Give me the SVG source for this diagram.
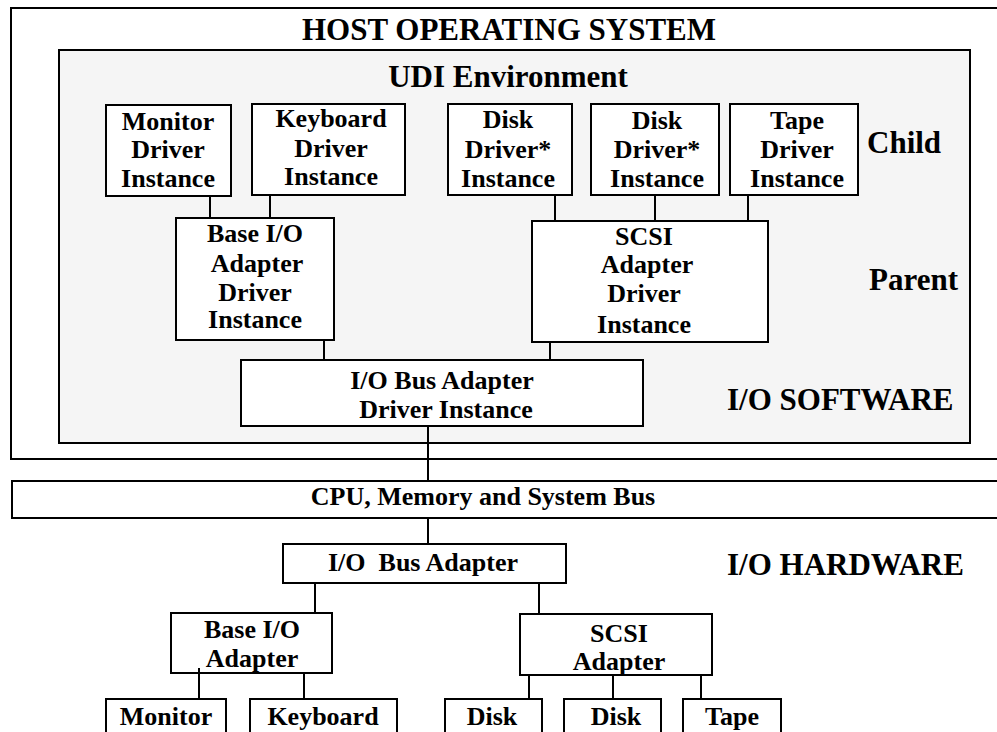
<svg xmlns="http://www.w3.org/2000/svg" width="997" height="732" viewBox="0 0 997 732">
<style>
rect{stroke:#000;stroke-width:2;fill:#fff}
rect.env{fill:#f5f5f5}
text{font-family:"Liberation Serif","Times New Roman",serif;font-weight:bold;fill:#000;text-anchor:middle}
.n{font-size:26px}
.big{font-size:31px}
.lbl{font-size:31px;text-anchor:start}
#connectors line{stroke:#000;stroke-width:2}
</style>
<rect id="host-box" x="11" y="8" width="1000" height="451"/>
<text class="big" x="509" y="40">HOST OPERATING SYSTEM</text>
<g id="udi-env">
<rect class="env" x="59" y="50" width="911" height="393"/>
<text class="big" x="508" y="87">UDI Environment</text>
</g>
<text class="lbl" x="867" y="153">Child</text>
<text class="lbl" x="869" y="290">Parent</text>
<text class="lbl" x="727" y="410">I/O SOFTWARE</text>
<text class="lbl" x="727" y="575">I/O HARDWARE</text>
<g id="connectors">
<line x1="210" y1="196" x2="210" y2="218"/>
<line x1="270" y1="195" x2="270" y2="218"/>
<line x1="555" y1="195" x2="555" y2="221"/>
<line x1="655" y1="195" x2="655" y2="221"/>
<line x1="748" y1="195" x2="748" y2="221"/>
<line x1="324" y1="340" x2="324" y2="360"/>
<line x1="550" y1="342" x2="550" y2="360"/>
<line x1="428" y1="426" x2="428" y2="481"/>
<line x1="428" y1="518" x2="428" y2="544"/>
<line x1="315" y1="583" x2="315" y2="613"/>
<line x1="539" y1="583" x2="539" y2="614"/>
<line x1="304" y1="673" x2="304" y2="699"/>
<line x1="529" y1="675" x2="529" y2="699"/>
<line x1="613" y1="675" x2="613" y2="699"/>
<line x1="701" y1="675" x2="701" y2="699"/>
</g>
<g id="monitor-drv">
<rect x="106" y="105" width="125" height="91"/>
<text class="n" x="168" y="130">Monitor</text>
<text class="n" x="168" y="158">Driver</text>
<text class="n" x="168" y="187">Instance</text>
</g>
<g id="keyboard-drv">
<rect x="252" y="104" width="153" height="91"/>
<text class="n" x="331" y="127">Keyboard</text>
<text class="n" x="331" y="157">Driver</text>
<text class="n" x="331" y="185">Instance</text>
</g>
<g id="disk1-drv">
<rect x="448" y="104" width="124" height="91"/>
<text class="n" x="508" y="128">Disk</text>
<text class="n" x="508" y="158">Driver*</text>
<text class="n" x="508" y="187">Instance</text>
</g>
<g id="disk2-drv">
<rect x="591" y="104" width="128" height="91"/>
<text class="n" x="657" y="129">Disk</text>
<text class="n" x="657" y="158">Driver*</text>
<text class="n" x="657" y="187">Instance</text>
</g>
<g id="tape-drv">
<rect x="730" y="104" width="128" height="91"/>
<text class="n" x="797" y="129">Tape</text>
<text class="n" x="797" y="158">Driver</text>
<text class="n" x="797" y="187">Instance</text>
</g>
<g id="base-io-drv">
<rect x="176" y="218" width="158" height="122"/>
<text class="n" x="255" y="242">Base I/O</text>
<text class="n" x="257" y="272">Adapter</text>
<text class="n" x="255" y="301">Driver</text>
<text class="n" x="255" y="328">Instance</text>
</g>
<g id="scsi-drv">
<rect x="532" y="221" width="236" height="121"/>
<text class="n" x="644" y="245">SCSI</text>
<text class="n" x="647" y="273">Adapter</text>
<text class="n" x="644" y="302">Driver</text>
<text class="n" x="644" y="333">Instance</text>
</g>
<g id="io-bus-drv">
<rect x="241" y="360" width="402" height="66"/>
<text class="n" x="442" y="389">I/O Bus Adapter</text>
<text class="n" x="446" y="418">Driver Instance</text>
</g>
<g id="cpu-bus">
<rect x="12" y="481" width="1000" height="37"/>
<text class="n" x="483" y="505">CPU, Memory and System Bus</text>
</g>
<g id="io-bus-hw">
<rect x="283" y="544" width="283" height="39"/>
<text class="n" x="423" y="571" xml:space="preserve">I/O  Bus Adapter</text>
</g>
<g id="base-io-hw">
<rect x="171" y="613" width="161" height="60"/>
<text class="n" x="252" y="638">Base I/O</text>
<text class="n" x="252" y="667">Adapter</text>
</g>
<g id="scsi-hw">
<rect x="520" y="614" width="192" height="61"/>
<text class="n" x="619" y="642">SCSI</text>
<text class="n" x="619" y="670">Adapter</text>
</g>
<line x1="199" y1="668" x2="199" y2="699" stroke="#000" stroke-width="2"/>
<g id="monitor-hw">
<rect x="106" y="699" width="120" height="40"/>
<text class="n" x="166" y="725">Monitor</text>
</g>
<g id="keyboard-hw">
<rect x="250" y="699" width="147" height="40"/>
<text class="n" x="323" y="725">Keyboard</text>
</g>
<g id="disk1-hw">
<rect x="445" y="699" width="97" height="40"/>
<text class="n" x="492" y="725">Disk</text>
</g>
<g id="disk2-hw">
<rect x="564" y="699" width="97" height="40"/>
<text class="n" x="616" y="725">Disk</text>
</g>
<g id="tape-hw">
<rect x="683" y="699" width="98" height="40"/>
<text class="n" x="732" y="725">Tape</text>
</g>
</svg>
